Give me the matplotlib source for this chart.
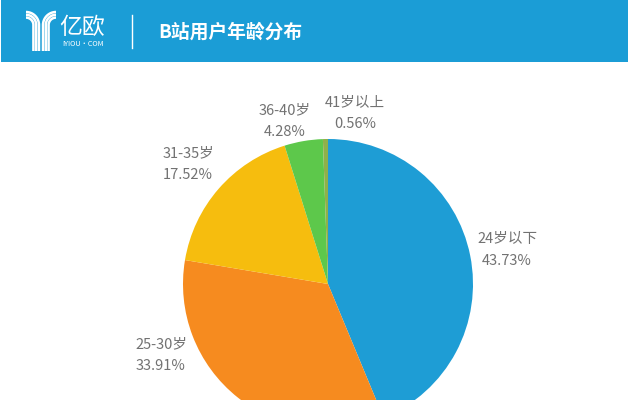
import matplotlib

matplotlib.use("Agg")
import matplotlib.pyplot as plt  # noqa: E402
import numpy as np  # noqa: E402
from matplotlib.patches import Rectangle  # noqa: E402

plt.rcParams["font.family"] = ["Noto Sans CJK SC", "DejaVu Sans"]

# data
groups = ["24岁以下", "25-30岁", "31-35岁", "36-40岁", "41岁以上"]
shares = [43.73, 33.91, 17.52, 4.28, 0.56]
colors = ["#1e9dd5", "#f68b1f", "#f6bd0e", "#5dc84b", "#8fb04a"]

# label anchors in pixels (x from left, y from top)
label_pos = [(507, 250), (161, 355), (188, 164), (285, 121), (355, 113)]

W, H = 629, 400
HEADER_BLUE = "#1b9dd6"
TEXT_GREY = "#727272"


def draw_logo(ax) -> None:
    # fanned strokes bending down into a stem, like a "Y"
    t = np.linspace(0, np.pi / 2, 40)
    top, bottom, axis_x = 12, 51, 41
    for r in (13, 10.2, 7.4):
        cy = top + 13  # common centre line for the arcs
        x = 26 + r * np.sin(t)
        y = cy - r * np.cos(t)
        xs = np.r_[x, x[-1]]
        ys = np.r_[y, bottom]
        ax.plot(xs, H - ys, color="white", lw=1.8, solid_capstyle="butt", zorder=3)
        ax.plot(2 * axis_x - xs, H - ys, color="white", lw=1.8, solid_capstyle="butt", zorder=3)


def main() -> None:
    fig = plt.figure(figsize=(W / 100, H / 100), dpi=100)
    fig.patch.set_facecolor("white")
    ax = fig.add_axes([0, 0, 1, 1])

    # header band
    ax.add_patch(Rectangle((1, H - 62), W - 2, 62, facecolor=HEADER_BLUE, edgecolor="none", zorder=1))
    draw_logo(ax)
    ax.text(59, H - 27, "亿欧", color="white", fontsize=16.5, fontweight="light",
            ha="left", va="center", zorder=3)
    ax.text(62, H - 44, "IYIOU·COM", color="white", fontsize=5.2, ha="left", va="center", zorder=3)
    ax.plot([132, 132], [H - 15, H - 48], color="white", lw=1, zorder=3)
    ax.text(158, H - 32, "B站用户年龄分布", color="white", fontsize=13.5, fontweight="bold",
            ha="left", va="center", zorder=3)

    # pie
    ax.pie(
        shares,
        colors=colors,
        startangle=90,
        counterclock=False,
        radius=145,
        center=(328, H - 284),
        wedgeprops=dict(linewidth=0),
        frame=True,
    )
    ax.set_xlim(0, W)
    ax.set_ylim(0, H)
    ax.set_aspect("equal")
    ax.axis("off")

    for name, val, (px, py) in zip(groups, shares, label_pos):
        ax.text(px, H - py, f"{name}\n{val:.2f}%", color=TEXT_GREY, fontsize=10.5,
                fontweight="light", ha="center", va="center", linespacing=1.75, zorder=4)

    fig.savefig("out.png", dpi=100)
    plt.close(fig)


if __name__ == "__main__":
    main()
